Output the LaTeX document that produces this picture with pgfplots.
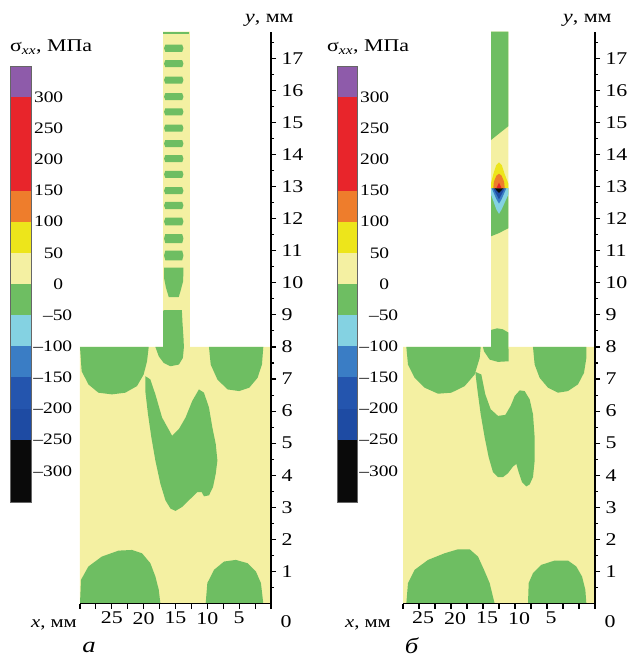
\documentclass[border=0pt]{standalone}
\usepackage{pgfplots}
\pgfplotsset{compat=1.18}
\usepackage{fontspec}
\setmainfont{Liberation Serif}
\definecolor{pal}{HTML}{F4F0A2}
\definecolor{grn}{HTML}{6EBE62}
\definecolor{cpur}{HTML}{8E5BAA}
\definecolor{cred}{HTML}{E8252B}
\definecolor{corg}{HTML}{EE7D2C}
\definecolor{cyel}{HTML}{EDE51B}
\definecolor{ccya}{HTML}{84D2E2}
\definecolor{cbla}{HTML}{3A7DC5}
\definecolor{cblb}{HTML}{2455AE}
\definecolor{cblc}{HTML}{1E4BA3}
\definecolor{cblk}{HTML}{0A0A0A}
\newcommand\W[1]{\scalebox{1.22}[1]{#1}}
\newcommand\fs[1]{\fontsize{#1}{#1}\selectfont}
\newcommand\Pl[1]{\makebox[32bp][r]{\W{#1}}}
\newcommand\Ng[1]{\makebox[41bp][r]{\W{–#1}}}
\pgfplotsset{
  gr/.style={fill=grn, draw=none, mark=none},
  bg/.style={fill=pal, draw=none, mark=none},
  cbar/.style={scale only axis, anchor=south west, width=21bp, height=436bp,
    xmin=0, xmax=1, ymin=-350, ymax=350, xtick=\empty,
    ytick={-300,-250,-200,-150,-100,-50,0,50,100,150,200,250,300},
    yticklabels={\Ng{300},\Ng{250},\Ng{200},\Ng{150},\Ng{100},\Ng{50},\Pl{0},\Pl{50},\Pl{100},\Pl{150},\Pl{200},\Pl{250},\Pl{300}},
    yticklabel pos=right, major tick length=0pt,
    axis line style={draw=black!60, line width=0.6bp},
    yticklabel style={inner sep=0pt, anchor=west, font=\fs{16}},
    axis on top},
  field/.style={scale only axis, anchor=south west, height=572bp,
    xmin=0, xmax=30, x dir=reverse, ymin=0, ymax=17.83,
    axis x line*=bottom, axis y line*=right, axis on top,
    axis line style={line width=1.6bp},
    tick align=outside, major tick length=5bp, minor tick length=3bp,
    every tick/.style={black, line width=1.1bp},
    xtick={0,2.5,5,7.5,10,12.5,15,17.5,20,22.5,25,27.5,30},
    xticklabels={{},{},\W{5},{},\W{10},{},\W{15},{},\W{20},{},\W{25},{},{}},
    ytick={1,2,3,4,5,6,7,8,9,10,11,12,13,14,15,16,17},
    minor ytick={0.5,1.5,2.5,3.5,4.5,5.5,6.5,7.5,8.5,9.5,10.5,11.5,12.5,13.5,14.5,15.5,16.5,17.5},
    yticklabels={\W{1},\W{2},\W{3},\W{4},\W{5},\W{6},\W{7},\W{8},\W{9},\W{10},\W{11},\W{12},\W{13},\W{14},\W{15},\W{16},\W{17}},
    xticklabel style={font=\fs{18}},
    yticklabel style={font=\fs{18}, xshift=2bp}}
}
\newcommand\cbfill{%
  \addplot[fill=cpur,draw=none] coordinates {(0,300)(1,300)(1,350)(0,350)};
  \addplot[fill=cred,draw=none] coordinates {(0,150)(1,150)(1,300)(0,300)};
  \addplot[fill=corg,draw=none] coordinates {(0,100)(1,100)(1,150)(0,150)};
  \addplot[fill=cyel,draw=none] coordinates {(0,50)(1,50)(1,100)(0,100)};
  \addplot[fill=pal,draw=none] coordinates {(0,0)(1,0)(1,50)(0,50)};
  \addplot[fill=grn,draw=none] coordinates {(0,-50)(1,-50)(1,0)(0,0)};
  \addplot[fill=ccya,draw=none] coordinates {(0,-100)(1,-100)(1,-50)(0,-50)};
  \addplot[fill=cbla,draw=none] coordinates {(0,-150)(1,-150)(1,-100)(0,-100)};
  \addplot[fill=cblb,draw=none] coordinates {(0,-200)(1,-200)(1,-150)(0,-150)};
  \addplot[fill=cblc,draw=none] coordinates {(0,-250)(1,-250)(1,-200)(0,-200)};
  \addplot[fill=cblk,draw=none] coordinates {(0,-350)(1,-350)(1,-250)(0,-250)};
}
\begin{document}
\begin{tikzpicture}
\path (0bp,0bp) rectangle (628bp,657bp);
% ---------- panel a ----------
\begin{axis}[cbar, at={(10bp,155bp)}]
\cbfill
\end{axis}
\begin{axis}[field, at={(80bp,53.4bp)}, width=191bp]
\addplot[bg] coordinates {(30,0)(0,0)(0,8)(12.75,8)(12.75,17.83)(16.95,17.83)(16.95,8)(30,8)};
% base
\addplot[gr] coordinates {(30,8)(29.74,7.245)(28.68,6.832)(27.11,6.574)(25.0,6.522)(22.89,6.574)(21.05,6.780)(20.0,7.141)(19.47,7.554)(19.21,8)};
\addplot[gr] coordinates {(9.74,8)(9.47,7.451)(8.42,6.987)(6.84,6.677)(5.0,6.625)(3.42,6.729)(2.11,7.038)(1.42,7.451)(1.21,8)};
\addplot[gr] coordinates {(19.74,7.090)(18.95,6.987)(18.16,6.522)(17.11,5.800)(15.53,5.232)(14.47,5.439)(13.42,5.800)(12.37,6.316)(11.32,6.677)(10.53,6.574)(9.74,6.109)(9.21,5.490)(8.68,4.974)(8.42,4.458)(8.68,4.045)(9.11,3.632)(9.74,3.375)(10.53,3.344)(10.89,3.478)(11.58,3.478)(12.63,3.271)(13.95,3.013)(15.0,2.890)(15.79,2.962)(16.58,3.220)(17.37,3.736)(18.16,4.458)(18.79,5.181)(19.32,5.903)(19.74,6.625)};
\addplot[gr] coordinates {(30,0)(29.84,0.743)(28.68,1.156)(26.58,1.465)(23.95,1.651)(21.84,1.672)(20.26,1.569)(18.95,1.259)(18.16,0.846)(17.63,0.433)(17.37,0)};
\addplot[gr] coordinates {(10.26,0)(10.0,0.640)(8.95,1.053)(7.37,1.311)(5.53,1.362)(3.68,1.259)(2.37,1.001)(1.58,0.640)(1.21,0)};
% stem
\addplot[gr] coordinates {(16.95,9.1)(16.85,9.15)(14.0,9.15)(13.9,8.75)(13.75,8.3)(13.68,8)(13.84,7.657)(14.47,7.451)(15.79,7.399)(16.84,7.5)(17.63,7.71)(18.16,8)(16.95,8)};
\addplot[gr] coordinates {(16.8,10.47)(13.75,10.47)(13.8,10.05)(14.2,9.75)(14.5,9.55)(16.05,9.55)(16.5,9.85)(16.8,10.15)};
\addplot[gr] coordinates {(16.9,17.83)(12.9,17.83)(12.9,17.77)(16.9,17.77)};
\addplot[gr] coordinates {(16.8,17.31)(16.6,17.42)(13.95,17.42)(13.75,17.31)(13.95,17.20)(16.6,17.20)};
\addplot[gr] coordinates {(16.8,16.83)(16.6,16.94)(13.95,16.94)(13.75,16.83)(13.95,16.72)(16.6,16.72)};
\addplot[gr] coordinates {(16.8,16.32)(16.6,16.43)(13.95,16.43)(13.75,16.32)(13.95,16.21)(16.6,16.21)};
\addplot[gr] coordinates {(16.8,15.80)(16.6,15.91)(13.95,15.91)(13.75,15.80)(13.95,15.69)(16.6,15.69)};
\addplot[gr] coordinates {(16.8,15.33)(16.6,15.44)(13.95,15.44)(13.75,15.33)(13.95,15.22)(16.6,15.22)};
\addplot[gr] coordinates {(16.8,14.82)(16.6,14.93)(13.95,14.93)(13.75,14.82)(13.95,14.71)(16.6,14.71)};
\addplot[gr] coordinates {(16.8,14.34)(16.6,14.45)(13.95,14.45)(13.75,14.34)(13.95,14.23)(16.6,14.23)};
\addplot[gr] coordinates {(16.8,13.87)(16.6,13.98)(13.95,13.98)(13.75,13.87)(13.95,13.76)(16.6,13.76)};
\addplot[gr] coordinates {(16.8,13.38)(16.6,13.49)(13.95,13.49)(13.75,13.38)(13.95,13.27)(16.6,13.27)};
\addplot[gr] coordinates {(16.8,12.87)(16.6,12.98)(13.95,12.98)(13.75,12.87)(13.95,12.76)(16.6,12.76)};
\addplot[gr] coordinates {(16.8,12.41)(16.6,12.52)(13.95,12.52)(13.75,12.41)(13.95,12.30)(16.6,12.30)};
\addplot[gr] coordinates {(16.8,11.91)(16.6,12.03)(13.95,12.03)(13.75,11.91)(13.95,11.79)(16.6,11.79)};
\addplot[gr] coordinates {(16.8,11.38)(16.6,11.52)(13.95,11.52)(13.75,11.38)(13.95,11.24)(16.6,11.24)};
\addplot[gr] coordinates {(16.8,10.85)(16.6,11.0)(13.95,11.0)(13.75,10.85)(13.95,10.70)(16.6,10.70)};
\end{axis}
% ---------- panel b ----------
\begin{axis}[cbar, at={(337bp,155bp)}, width=20bp]
\cbfill
\end{axis}
\begin{axis}[field, at={(403bp,53.4bp)}, width=192bp, xticklabel style={xshift=-12bp}]
\addplot[bg] coordinates {(30,0)(0,0)(0,8)(13.55,8)(13.55,17.83)(16.25,17.83)(16.25,8)(30,8)};
\addplot[gr] coordinates {(29.48,8)(29.22,7.451)(28.18,7.038)(26.61,6.729)(24.53,6.543)(22.45,6.574)(20.36,6.780)(18.80,7.141)(18.02,7.657)(17.86,8)};
\addplot[gr] coordinates {(9.69,8)(9.43,7.451)(8.65,7.038)(7.34,6.729)(5.78,6.574)(4.22,6.625)(2.66,6.832)(1.72,7.193)(1.35,7.657)(1.35,8)};
\addplot[gr] coordinates {(18.70,7.224)(17.76,7.141)(17.14,6.522)(16.30,6.058)(15.16,5.851)(14.01,5.882)(13.18,6.161)(12.55,6.471)(11.77,6.646)(10.99,6.625)(10.21,6.367)(9.69,5.903)(9.43,5.181)(9.43,4.458)(9.69,3.942)(10.21,3.715)(10.73,3.653)(11.41,3.787)(11.93,4.097)(12.29,4.355)(12.81,4.272)(13.59,4.066)(14.38,3.942)(15.16,3.942)(15.94,4.097)(16.61,4.561)(17.24,5.181)(17.86,5.903)(18.28,6.522)(18.54,6.935)};
\addplot[gr] coordinates {(29.48,0)(29.22,0.640)(28.18,1.053)(26.09,1.362)(23.49,1.569)(21.41,1.693)(19.58,1.693)(18.28,1.465)(17.34,1.053)(16.46,0.640)(15.68,0)};
\addplot[gr] coordinates {(10.47,0)(10.36,0.640)(9.69,0.949)(8.39,1.207)(6.30,1.342)(4.22,1.342)(2.92,1.156)(2.03,0.846)(1.51,0.433)(1.35,0)};
% stem
\addplot[gr] coordinates {(16.25,8.53)(15.3,8.58)(14.4,8.55)(13.55,8.45)(13.52,8)(13.49,7.554)(15.16,7.534)(16.46,7.606)(17.34,7.864)(17.5,8)(16.25,8)};
\addplot[gr] coordinates {(16.25,17.83)(13.55,17.83)(13.55,14.88)(16.25,14.45)};
\addplot[gr] coordinates {(16.25,12.95)(16.25,11.45)(15.0,11.55)(13.55,11.7)(13.55,12.95)};
\addplot[fill=ccya,draw=none] coordinates {(16.25,12.95)(16.25,12.75)(15.4,12.28)(15.0,12.15)(14.6,12.28)(13.55,12.75)(13.55,12.95)};
\addplot[fill=cbla,draw=none] coordinates {(16.15,12.95)(15.4,12.6)(15.0,12.47)(14.6,12.6)(13.85,12.95)};
\addplot[fill=cblc,draw=none] coordinates {(15.9,12.95)(15.0,12.6)(14.1,12.95)};
\addplot[fill=cblk,draw=none] coordinates {(15.7,12.95)(15.0,12.8)(14.3,12.95)};
\addplot[fill=cyel,draw=none] coordinates {(16.25,12.95)(16.25,13.1)(15.9,13.38)(15.45,13.66)(15.0,13.75)(14.55,13.66)(14.1,13.38)(13.55,13.1)(13.55,12.95)};
\addplot[fill=corg,draw=none] coordinates {(15.9,12.95)(15.8,13.15)(15.4,13.34)(15.0,13.4)(14.6,13.34)(14.2,13.15)(14.1,12.95)};
\addplot[fill=cred,draw=none] coordinates {(15.4,12.95)(15.0,13.12)(14.6,12.95)};
\end{axis}
% ---------- texts ----------
\node[anchor=base west, inner sep=0pt, font=\fs{18}] at (10bp,605bp) {\W{σ\textsubscript{\textit{xx}}, МПа}};
\node[anchor=base west, inner sep=0pt, font=\fs{18}] at (245bp,634bp) {\W{\textit{y}, мм}};
\node[anchor=base east, inner sep=0pt, font=\fs{17}] at (77bp,29.7bp) {\W{\textit{x}, мм}};
\node[anchor=base, inner sep=0pt, font=\fs{18}] at (286bp,29.7bp) {\W{0}};
\node[anchor=base, inner sep=0pt, font=\fs{22}\itshape] at (89bp,5bp) {\W{а}};
\node[anchor=base west, inner sep=0pt, font=\fs{18}] at (327bp,605bp) {\W{σ\textsubscript{\textit{xx}}, МПа}};
\node[anchor=base west, inner sep=0pt, font=\fs{18}] at (563bp,634bp) {\W{\textit{y}, мм}};
\node[anchor=base east, inner sep=0pt, font=\fs{17}] at (391bp,29.7bp) {\W{\textit{x}, мм}};
\node[anchor=base, inner sep=0pt, font=\fs{18}] at (610bp,29.7bp) {\W{0}};
\node[anchor=base, inner sep=0pt, font=\fs{22}\itshape] at (411.5bp,4bp) {\W{б}};
\end{tikzpicture}
\end{document}
